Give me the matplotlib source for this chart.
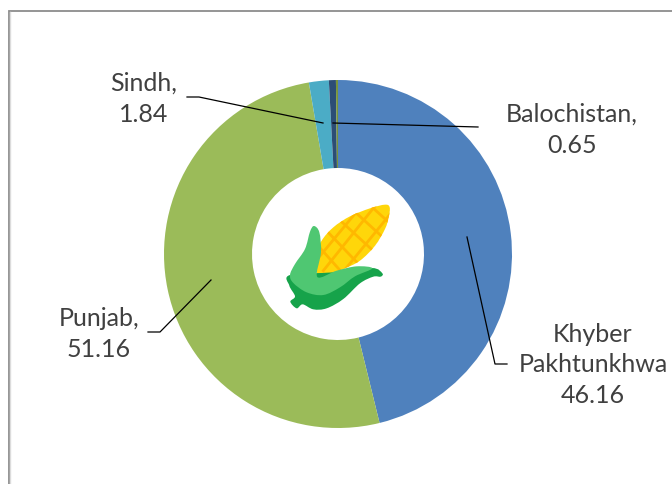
import matplotlib
matplotlib.use('Agg')
import matplotlib.pyplot as plt
from matplotlib.patches import PathPatch
from matplotlib.path import Path

provinces = ['Khyber Pakhtunkhwa', 'Punjab', 'Sindh', 'Balochistan', 'Other']
shares = [46.16, 51.16, 1.84, 0.65, 0.19]
slice_colors = ['#4f81bd', '#9bbb59', '#4bacc6', '#2c4d75', '#77933c']

W, H = 672, 485


def flip(points):
    # reference pixels have y going down
    return [(x, H - y) for x, y in points]


def zoomed(points):
    return [(260 + x / 3, 190 + y / 3) for x, y in points]


def smooth_shape(points, color, zorder=5):
    # closed catmull-rom outline through the points
    p = flip(zoomed(points))
    n = len(p)
    verts = [p[0]]
    codes = [Path.MOVETO]
    for i in range(n):
        p0, p1, p2, p3 = p[i - 1], p[i], p[(i + 1) % n], p[(i + 2) % n]
        c1 = (p1[0] + (p2[0] - p0[0]) / 6, p1[1] + (p2[1] - p0[1]) / 6)
        c2 = (p2[0] - (p3[0] - p1[0]) / 6, p2[1] - (p3[1] - p1[1]) / 6)
        verts += [c1, c2, p2]
        codes += [Path.CURVE4] * 3
    patch = PathPatch(Path(verts, codes), facecolor=color, edgecolor='none', zorder=zorder)
    ax.add_patch(patch)
    return patch


fig = plt.figure(figsize=(W / 100, H / 100), dpi=100)
ax = fig.add_axes([0, 0, 1, 1])

ax.pie(shares, colors=slice_colors, startangle=90, counterclock=False,
       center=(338, H - 255), radius=174,
       wedgeprops={'width': 88, 'linewidth': 0})

ax.set_xlim(0, W)
ax.set_ylim(0, H)
ax.set_aspect('equal')
ax.axis('off')

# chart frame, only the top and left edges are in view
ax.plot([8.5, 8.5, W], [0, H - 11.5, H - 11.5], color='#8c8c8c', lw=1.3, solid_joinstyle='miter')
ax.plot([10, 10], [0, H - 13], color='#dcdcdc', lw=1)

# leader lines
leaders = [
    [(187, 98), (199, 98), (323, 124)],
    [(478, 128), (333, 124)],
    [(148, 333), (160, 333), (211, 281)],
    [(467, 238), (495, 365), (507, 365)],
]
for line in leaders:
    pts = flip(line)
    ax.plot([p[0] for p in pts], [p[1] for p in pts], color='black', lw=0.9, zorder=4)

labels = ['Sindh,\n1.84', 'Balochistan,\n0.65', 'Punjab,\n51.16', 'Khyber\nPakhtunkhwa\n46.16']
label_x = [144, 572, 99, 593]
label_y = [99, 130, 334, 365]
for text, x, y in zip(labels, label_x, label_y):
    ax.text(x, H - y, text, family=['Lato', 'DejaVu Sans'], fontsize=18, color='#404040',
            ha='center', va='center', linespacing=1.42, zorder=6)

# corn icon in the hole of the ring
cob = [(172, 262), (172, 195), (185, 155), (220, 115), (270, 82), (330, 58), (375, 47), (389, 55),
       (386, 85), (375, 120), (345, 170), (300, 215), (250, 240), (190, 264)]
cob_patch = smooth_shape(cob, '#ffd60a')

lattice = [
    [(165, 160), (250, 255)], [(190, 115), (310, 240)], [(225, 80), (350, 195)],
    [(270, 55), (385, 160)], [(320, 40), (400, 112)],
    [(160, 225), (295, 62)], [(190, 245), (350, 45)], [(240, 260), (395, 70)], [(295, 240), (400, 110)],
]
for a, b in lattice:
    pts = flip(zoomed([a, b]))
    seg, = ax.plot([pts[0][0], pts[1][0]], [pts[0][1], pts[1][1]], color='#ffb800', lw=2, zorder=5.5)
    seg.set_clip_path(cob_patch)

dark_leaf = [(90, 258), (88, 290), (105, 322), (91, 338), (110, 358), (128, 346), (160, 361),
             (200, 358), (250, 330), (300, 283), (340, 263), (362, 263), (367, 253), (335, 237),
             (220, 250)]
smooth_shape(dark_leaf, '#16a34a', zorder=6)

light_leaf = [(162, 111), (150, 128), (135, 180), (105, 225), (90, 258), (100, 282), (140, 310),
              (190, 318), (240, 295), (285, 262), (337, 238), (290, 232), (230, 245), (172, 264),
              (183, 190), (178, 130)]
smooth_shape(light_leaf, '#4fc772', zorder=7)

fig.savefig('out.png', dpi=100)
